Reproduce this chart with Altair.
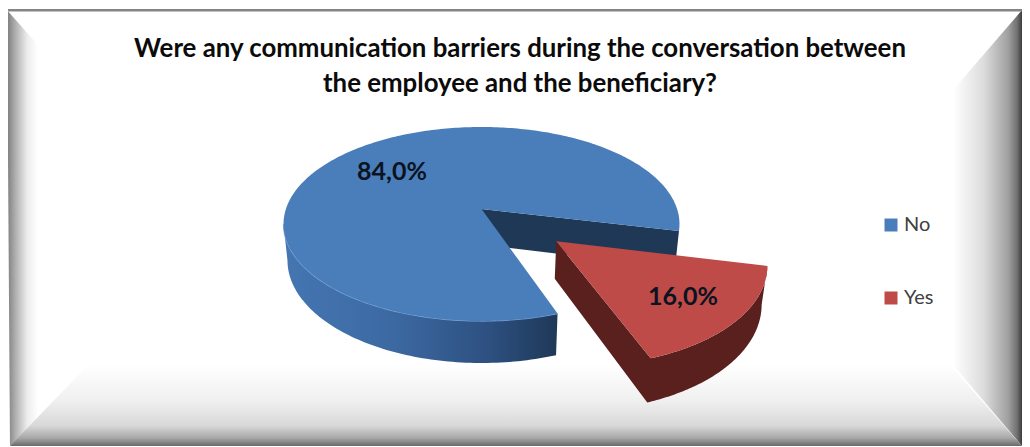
import math
import altair as alt
import pandas as pd

# ---- chart values
CATEGORIES = ["No", "Yes"]
SHARES = [84.0, 16.0]
LABELS = ["84,0%", "16,0%"]
TITLE_LINES = ["Were any communication barriers during the conversation between",
               "the employee and the beneficiary?"]
TOP_COLORS = ["#4A7EBB", "#BE4B48"]

# ---- geometry of the tilted pie (page pixels)
W, H = 1014, 439
APEX_X, APEX_Y = 481.5, 209.0
R = 195.6
K, A = 0.1546, -62.4
DEPTH = 35.5
BOTTOM_SHRINK = 0.98
START_DEG = 103.0
EXPLODE = 0.487
SILHOUETTE_DEG = 261.0
FONT = "Lato"


def project(u, v, low=False):
    w = 1 + K * v
    s = BOTTOM_SHRINK if low else 1.0
    x = APEX_X + s * R * u / w
    y = (A * v + APEX_Y) / w + (DEPTH / w if low else 0)
    return x, y


def plane(deg, radius=1.0, du=0.0, dv=0.0):
    t = math.radians(deg)
    return radius * math.sin(t) + du, radius * math.cos(t) + dv


def arc(d0, d1, du=0.0, dv=0.0, low=False, n=90):
    return [project(*plane(d0 + (d1 - d0) * i / n, 1.0, du, dv), low) for i in range(n + 1)]


YES_DEG = SHARES[1] * 3.6
yes0, yes1 = START_DEG, START_DEG + YES_DEG
mid = math.radians((yes0 + yes1) / 2)
DU, DV = EXPLODE * math.sin(mid), EXPLODE * math.cos(mid)


def frame(points, **cols):
    closed = list(points) + [points[0]]
    d = pd.DataFrame(closed, columns=["x", "y"])
    d["i"] = range(len(d))
    for k, v in cols.items():
        d[k] = v
    return d


X = alt.X("x:Q", scale=alt.Scale(domain=[8, 8 + W], nice=False, zero=False), axis=None)
Y = alt.Y("y:Q", scale=alt.Scale(domain=[8 + H, 8], nice=False, zero=False), axis=None)
O = alt.Order("i:Q")


def grad(stops, x2=0, y2=0):
    return alt.LinearGradient(
        gradient="linear", x1=0, y1=0, x2=x2, y2=y2,
        stops=[alt.GradientStop(offset=o, color=c) for o, c in stops])


def face(points, fill):
    return alt.Chart(frame(points)).mark_line(
        fill=fill, stroke="transparent", strokeWidth=0, interpolate="linear"
    ).encode(x=X, y=Y, order=O)


# ---- bevelled panel
edge_l = [(7, 10), (38, 45), (38, 420), (10, 446)]
edge_b = [(10, 446), (88, 365), (950, 365), (1022, 446)]
edge_r = [(1022, 10), (953, 90), (953, 365), (1022, 446)]
edge_t = [(7, 9), (1022, 9), (1022, 11.5), (7, 11.5)]

panel = [
    face(edge_l, grad([(0, "#7c7c7c"), (0.3, "#b4b4b4"), (0.65, "#ececec"), (1, "#ffffff")], x2=1)),
    face(edge_r, grad([(0, "#ffffff"), (0.45, "#dcdcdc"), (0.8, "#a0a0a0"), (0.93, "#707070"), (1, "#3c3c3c")], x2=1)),
    face(edge_b, grad([(0, "#ffffff"), (0.45, "#efefef"), (0.75, "#d8d8d8"), (0.9, "#a8a8a8"), (1, "#6a6a6a")], y2=1)),
    face(edge_t, "#858585"),
]

# ---- pie faces
no_side = arc(yes1, SILHOUETTE_DEG) + arc(SILHOUETTE_DEG, yes1, low=True)
cut_apex = project(0, 0)
cut_apex_low = project(0, 0, True)
wall_end = project(*plane(yes0))
wall_end_low = project(*plane(yes0), True)
no_wall = [cut_apex, wall_end, wall_end_low, cut_apex_low]
no_top = [cut_apex] + arc(yes1, yes0 + 360, n=300)

yes_apex = project(DU, DV)
yes_apex_low = project(DU, DV, True)
yes_side = [yes_apex] + arc(yes1, yes0, DU, DV) + arc(yes0, yes1, DU, DV, True) + [yes_apex_low]
yes_top = [yes_apex] + arc(yes0, yes1, DU, DV)

top_faces = pd.concat([
    frame(no_top, category=CATEGORIES[0]),
    frame(yes_top, category=CATEGORIES[1]),
])

wall_back = face(no_wall, "#1F3856")
wall_front = face(no_side, grad([(0, "#4576B2"), (0.4, "#3C69A2"), (0.75, "#2D5080"), (1, "#1E3858")], x2=1))

rim = alt.Chart(frame(arc(yes1, SILHOUETTE_DEG))[:-1]).mark_line(
    stroke="#7FA6DA", strokeWidth=1.2, opacity=0.9
).encode(x=X, y=Y, order=O)

red_wall = face(yes_side, "#59201E")

tops = alt.Chart(top_faces).mark_line(strokeWidth=0).encode(
    x=X, y=Y, order=O,
    fill=alt.Fill(
        "category:N",
        scale=alt.Scale(domain=CATEGORIES, range=TOP_COLORS),
        legend=alt.Legend(
            title=None, orient="none", legendX=873, legendY=207,
            symbolType="square", symbolSize=169, symbolStrokeWidth=0,
            labelFont=FONT, labelFontSize=20, labelColor="#404040",
            rowPadding=53, labelOffset=3,
        ),
    ),
)

label_df = pd.DataFrame({
    "x": [392.0, 683.0], "y": [172.0, 297.0], "t": LABELS,
})
labels = alt.Chart(label_df).mark_text(
    font=FONT, fontWeight="bold", fontSize=25, color="#0B1320", align="center", baseline="middle"
).encode(x=X, y=Y, text="t:N")

chart = alt.layer(*panel, wall_back, wall_front, rim, red_wall, tops, labels).properties(
    width=W, height=H,
    padding=0,
    autosize=alt.AutoSizeParams(type="none"),
    background="white",
    title=alt.TitleParams(
        text=TITLE_LINES, font=FONT, fontSize=25.8, fontWeight="bold", color="#0B0B0B",
        anchor="middle", lineHeight=35, dx=5, dy=114, baseline="alphabetic",
    ),
).configure_view(stroke=None)

chart.save("out.html", embed_options={"renderer": "svg", "actions": False})
